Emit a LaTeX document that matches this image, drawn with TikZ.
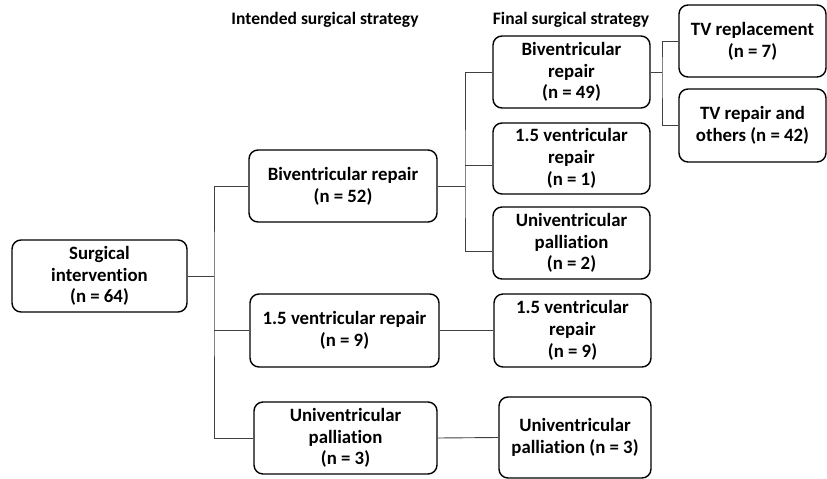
\documentclass[tikz,border=0pt]{standalone}
\usepackage{fontspec}
\setmainfont{Carlito}[Ligatures={NoCommon,NoContextual}]
\begin{document}
\begin{tikzpicture}[x=1pt,y=-1pt,
  box/.style={draw, line width=1.4pt, rounded corners=9pt, align=center, inner sep=0pt,
    font=\bfseries\fontsize{18.8}{21.8}\selectfont},
  link/.style={draw=black!75, line width=0.9pt},
  head/.style={font=\bfseries\fontsize{17.5}{20}\selectfont}]
\useasboundingbox (0,0) rectangle (827,479);
\node[head] (hint) at (325,20) {Intended surgical strategy};
\node[head] (hfin) at (571,20) {Final surgical strategy};
\node[box, minimum width=175pt, minimum height=72pt] (si) at (99.5,276) {Surgical\\intervention\\(n = 64)};
\node[box, minimum width=188pt, minimum height=72pt] (ib) at (343,186) {Biventricular repair\\(n = 52)};
\node[box, minimum width=189pt, minimum height=73pt] (i15) at (344.5,330.5) {1.5 ventricular repair\\(n = 9)};
\node[box, minimum width=183pt, minimum height=72pt] (iu) at (345.5,438) {Univentricular\\palliation\\(n = 3)};
\node[box, minimum width=157pt, minimum height=72pt] (fb) at (571.5,72) {Biventricular\\repair\\(n = 49)};
\node[box, minimum width=157pt, minimum height=71pt] (f1) at (571.5,158.5) {1.5 ventricular\\repair\\(n = 1)};
\node[box, minimum width=157pt, minimum height=72pt] (f2) at (571.5,243) {Univentricular\\palliation\\(n = 2)};
\node[box, minimum width=157pt, minimum height=73pt] (f9) at (572.5,330.5) {1.5 ventricular\\repair\\(n = 9)};
\node[box, minimum width=152pt, minimum height=81pt] (f3) at (575,437.5) {Univentricular\\palliation (n = 3)};
\node[box, minimum width=147pt, minimum height=72pt] (tvr) at (752.5,41) {TV replacement\\(n = 7)};
\node[box, minimum width=147pt, minimum height=73pt] (tvo) at (752.5,125.5) {TV repair and\\others (n = 42)};
% intended strategy
\coordinate (b1) at (214,276);
\draw[link] (si.east) -- (b1);
\draw[link] (ib.west) -| (b1) |- (iu.west);
\draw[link] (b1 |- i15.west) -- (i15.west);
% final strategy
\coordinate (b2) at (465,186);
\coordinate (f1in) at ([yshift=-7pt]f1.west);
\coordinate (f2in) at ([yshift=-8pt]f2.west);
\draw[link] (ib.east) -- (b2);
\draw[link] (fb.west) -| (b2) |- (f2in);
\draw[link] (b2 |- f1in) -- (f1in);
\draw[link] (i15.east) -- (f9.west);
\draw[link] (iu.east) -- (f3.west);
% valve procedure
\coordinate (b3) at (662,72);
\draw[link] (fb.east) -- (b3);
\draw[link] (tvr.west) -| (b3) |- (tvo.west);
\end{tikzpicture}
\end{document}
